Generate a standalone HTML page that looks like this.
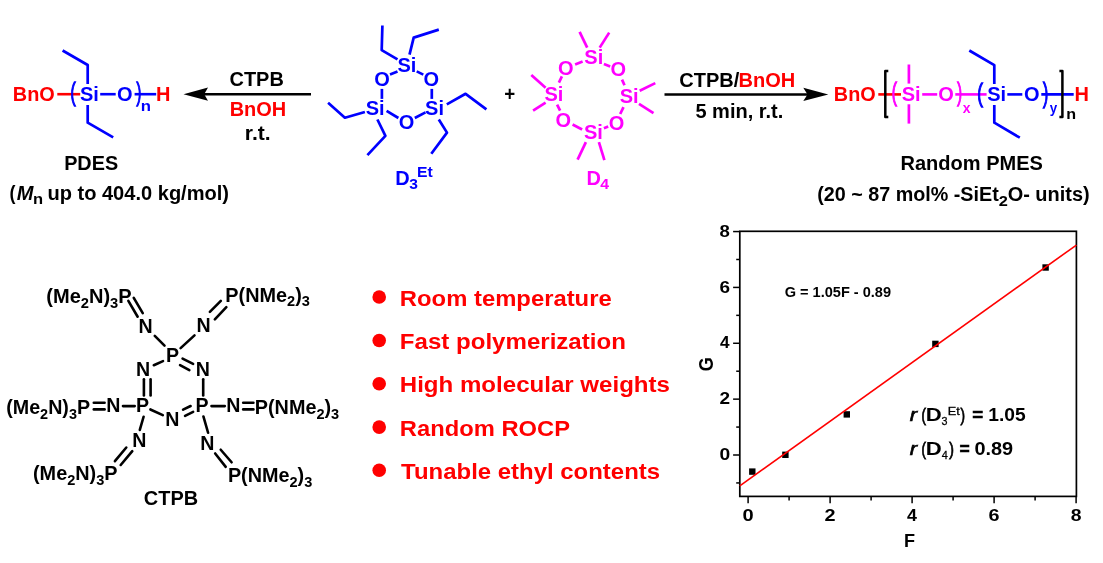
<!DOCTYPE html>
<html><head><meta charset="utf-8"><title>Graphical abstract</title>
<style>
html,body{margin:0;padding:0;background:#fff;}
svg{display:block;font-family:"Liberation Sans",Arial,Helvetica,sans-serif;font-weight:700;}
</style></head><body>
<svg width="1103" height="563" viewBox="0 0 1103 563">
<rect width="1103" height="563" fill="#fff"/>
<text x="12.84" y="101.0" font-size="20" fill="#ff0000" textLength="41.94" lengthAdjust="spacingAndGlyphs">BnO</text>
<polyline points="57.3,94.2 80.2,94.2" fill="none" stroke="#ff0000" stroke-width="2.6" stroke-linecap="butt" stroke-linejoin="round"/>
<text x="70.54" y="100.7" font-size="25.2" fill="#0000ff" textLength="5.13" lengthAdjust="spacingAndGlyphs" font-weight="400" stroke="#0000ff" stroke-width="1.3">(</text>
<text x="80.02" y="101.0" font-size="20" fill="#0000ff" textLength="18.90" lengthAdjust="spacingAndGlyphs">Si</text>
<polyline points="100.2,94.2 115.7,94.2" fill="none" stroke="#0000ff" stroke-width="2.6" stroke-linecap="butt" stroke-linejoin="round"/>
<text x="116.93" y="101.0" font-size="20" fill="#0000ff" textLength="15.56" lengthAdjust="spacingAndGlyphs">O</text>
<text x="136.53" y="100.7" font-size="25.2" fill="#0000ff" textLength="4.76" lengthAdjust="spacingAndGlyphs" font-weight="400" stroke="#0000ff" stroke-width="1.3">)</text>
<text x="140.76" y="110.6" font-size="14.6" fill="#0000ff" textLength="10.22" lengthAdjust="spacingAndGlyphs">n</text>
<polyline points="134.6,94.2 156.2,94.2" fill="none" stroke="#0000ff" stroke-width="2.6" stroke-linecap="butt" stroke-linejoin="round"/>
<text x="156.04" y="101.0" font-size="20" fill="#ff0000" textLength="14.44" lengthAdjust="spacingAndGlyphs">H</text>
<polyline points="87.7,84 87.7,65 62.6,50.5" fill="none" stroke="#0000ff" stroke-width="2.7" stroke-linecap="butt" stroke-linejoin="round"/>
<polyline points="87.7,105 87.7,122.7 113.2,137.4" fill="none" stroke="#0000ff" stroke-width="2.7" stroke-linecap="butt" stroke-linejoin="round"/>
<text x="64.14" y="170.2" font-size="20" fill="#000000" textLength="53.98" lengthAdjust="spacingAndGlyphs">PDES</text>
<text x="9.47" y="200.4" font-size="20" fill="#000000" textLength="6.00" lengthAdjust="spacingAndGlyphs">(</text>
<text x="16.71" y="200.4" font-size="20" fill="#000000" textLength="16.68" lengthAdjust="spacingAndGlyphs" font-style="italic">M</text>
<text x="33.08" y="203.6" font-size="14.6" fill="#000000" textLength="10.10" lengthAdjust="spacingAndGlyphs">n</text>
<text x="47.41" y="200.4" font-size="20" fill="#000000" textLength="181.63" lengthAdjust="spacingAndGlyphs">up to 404.0 kg/mol)</text>
<polyline points="204,94.2 311,94.2" fill="none" stroke="#000000" stroke-width="2.5" stroke-linecap="butt" stroke-linejoin="round"/>
<path d="M183.5,94.2 L208,87.6 L204.2,94.2 L208,100.8 Z" fill="#000"/>
<text x="229.53" y="86.1" font-size="20" fill="#000000" textLength="54.32" lengthAdjust="spacingAndGlyphs">CTPB</text>
<text x="229.63" y="116.0" font-size="20" fill="#ff0000" textLength="56.56" lengthAdjust="spacingAndGlyphs">BnOH</text>
<text x="244.88" y="139.7" font-size="20" fill="#000000" textLength="25.82" lengthAdjust="spacingAndGlyphs">r.t.</text>
<text x="397.47" y="72.2" font-size="20" fill="#0000ff" textLength="18.90" lengthAdjust="spacingAndGlyphs">Si</text>
<text x="374.13" y="85.7" font-size="20" fill="#0000ff" textLength="15.56" lengthAdjust="spacingAndGlyphs">O</text>
<text x="423.48" y="85.7" font-size="20" fill="#0000ff" textLength="15.56" lengthAdjust="spacingAndGlyphs">O</text>
<text x="365.67" y="115.4" font-size="20" fill="#0000ff" textLength="18.90" lengthAdjust="spacingAndGlyphs">Si</text>
<text x="425.12" y="115.4" font-size="20" fill="#0000ff" textLength="18.90" lengthAdjust="spacingAndGlyphs">Si</text>
<text x="398.63" y="129.3" font-size="20" fill="#0000ff" textLength="15.56" lengthAdjust="spacingAndGlyphs">O</text>
<polyline points="397.5,71.4 390,74.6" fill="none" stroke="#0000ff" stroke-width="2.7" stroke-linecap="butt" stroke-linejoin="round"/>
<polyline points="416.7,71.4 423.3,74.6" fill="none" stroke="#0000ff" stroke-width="2.7" stroke-linecap="butt" stroke-linejoin="round"/>
<polyline points="381.9,88.9 381.9,98.9" fill="none" stroke="#0000ff" stroke-width="2.7" stroke-linecap="butt" stroke-linejoin="round"/>
<polyline points="431.8,88.9 431.8,98.9" fill="none" stroke="#0000ff" stroke-width="2.7" stroke-linecap="butt" stroke-linejoin="round"/>
<polyline points="386.6,110.8 398.4,118" fill="none" stroke="#0000ff" stroke-width="2.7" stroke-linecap="butt" stroke-linejoin="round"/>
<polyline points="414.8,118 425.5,112.4" fill="none" stroke="#0000ff" stroke-width="2.7" stroke-linecap="butt" stroke-linejoin="round"/>
<polyline points="397.5,59.4 381.7,50.1 382.4,25.5" fill="none" stroke="#0000ff" stroke-width="2.7" stroke-linecap="butt" stroke-linejoin="round"/>
<polyline points="409.5,54.6 413.7,37.6 438.8,29.6" fill="none" stroke="#0000ff" stroke-width="2.7" stroke-linecap="butt" stroke-linejoin="round"/>
<polyline points="364.9,112 344.9,117.7 328.1,102.7" fill="none" stroke="#0000ff" stroke-width="2.7" stroke-linecap="butt" stroke-linejoin="round"/>
<polyline points="377.4,119.5 385.4,135.8 367.4,155.1" fill="none" stroke="#0000ff" stroke-width="2.7" stroke-linecap="butt" stroke-linejoin="round"/>
<polyline points="446.8,104.4 465.6,93.8 486.4,109.3" fill="none" stroke="#0000ff" stroke-width="2.7" stroke-linecap="butt" stroke-linejoin="round"/>
<polyline points="438.8,119.5 447,132.6 431.3,153.8" fill="none" stroke="#0000ff" stroke-width="2.7" stroke-linecap="butt" stroke-linejoin="round"/>
<text x="395.23" y="184.5" font-size="20" fill="#0000ff" textLength="14.44" lengthAdjust="spacingAndGlyphs">D</text>
<text x="409.21" y="189.1" font-size="14.6" fill="#0000ff" textLength="8.69" lengthAdjust="spacingAndGlyphs">3</text>
<text x="417.11" y="176.8" font-size="14.6" fill="#0000ff" textLength="15.73" lengthAdjust="spacingAndGlyphs">Et</text>
<text x="504.31" y="100.5" font-size="20" fill="#000000" textLength="10.94" lengthAdjust="spacingAndGlyphs">+</text>
<text x="584.37" y="64.3" font-size="20" fill="#ff00ff" textLength="18.90" lengthAdjust="spacingAndGlyphs">Si</text>
<text x="557.98" y="75.1" font-size="20" fill="#ff00ff" textLength="15.56" lengthAdjust="spacingAndGlyphs">O</text>
<text x="610.53" y="76.3" font-size="20" fill="#ff00ff" textLength="15.56" lengthAdjust="spacingAndGlyphs">O</text>
<text x="544.47" y="101.1" font-size="20" fill="#ff00ff" textLength="18.90" lengthAdjust="spacingAndGlyphs">Si</text>
<text x="619.67" y="103.1" font-size="20" fill="#ff00ff" textLength="18.90" lengthAdjust="spacingAndGlyphs">Si</text>
<text x="555.43" y="127.1" font-size="20" fill="#ff00ff" textLength="15.56" lengthAdjust="spacingAndGlyphs">O</text>
<text x="608.68" y="129.6" font-size="20" fill="#ff00ff" textLength="15.56" lengthAdjust="spacingAndGlyphs">O</text>
<text x="583.97" y="138.9" font-size="20" fill="#ff00ff" textLength="18.90" lengthAdjust="spacingAndGlyphs">Si</text>
<polyline points="582.6,61.4 575.1,64.4" fill="none" stroke="#ff00ff" stroke-width="2.7" stroke-linecap="butt" stroke-linejoin="round"/>
<polyline points="603.9,63.9 610.2,66.4" fill="none" stroke="#ff00ff" stroke-width="2.7" stroke-linecap="butt" stroke-linejoin="round"/>
<polyline points="561.9,76.4 558.9,82.6" fill="none" stroke="#ff00ff" stroke-width="2.7" stroke-linecap="butt" stroke-linejoin="round"/>
<polyline points="622,79.6 624.5,85.2" fill="none" stroke="#ff00ff" stroke-width="2.7" stroke-linecap="butt" stroke-linejoin="round"/>
<polyline points="557.1,104.7 560.1,110.7" fill="none" stroke="#ff00ff" stroke-width="2.7" stroke-linecap="butt" stroke-linejoin="round"/>
<polyline points="623.5,107.2 620.2,114" fill="none" stroke="#ff00ff" stroke-width="2.7" stroke-linecap="butt" stroke-linejoin="round"/>
<polyline points="572.6,124.5 582.1,129.5" fill="none" stroke="#ff00ff" stroke-width="2.7" stroke-linecap="butt" stroke-linejoin="round"/>
<polyline points="608.2,126.5 603.9,128.2" fill="none" stroke="#ff00ff" stroke-width="2.7" stroke-linecap="butt" stroke-linejoin="round"/>
<polyline points="587.2,47.6 579.6,31.8" fill="none" stroke="#ff00ff" stroke-width="2.7" stroke-linecap="butt" stroke-linejoin="round"/>
<polyline points="599.7,47.6 609.2,32.6" fill="none" stroke="#ff00ff" stroke-width="2.7" stroke-linecap="butt" stroke-linejoin="round"/>
<polyline points="545.6,87.7 531.3,75.1" fill="none" stroke="#ff00ff" stroke-width="2.7" stroke-linecap="butt" stroke-linejoin="round"/>
<polyline points="545.6,102.7 533.1,110.7" fill="none" stroke="#ff00ff" stroke-width="2.7" stroke-linecap="butt" stroke-linejoin="round"/>
<polyline points="639.7,90.7 655.3,83.1" fill="none" stroke="#ff00ff" stroke-width="2.7" stroke-linecap="butt" stroke-linejoin="round"/>
<polyline points="639,103.9 653.5,113.2" fill="none" stroke="#ff00ff" stroke-width="2.7" stroke-linecap="butt" stroke-linejoin="round"/>
<polyline points="585.9,142.1 577.6,159.6" fill="none" stroke="#ff00ff" stroke-width="2.7" stroke-linecap="butt" stroke-linejoin="round"/>
<polyline points="598.9,142.1 604.4,160.1" fill="none" stroke="#ff00ff" stroke-width="2.7" stroke-linecap="butt" stroke-linejoin="round"/>
<text x="586.48" y="184.7" font-size="20" fill="#ff00ff" textLength="14.44" lengthAdjust="spacingAndGlyphs">D</text>
<text x="600.31" y="189.1" font-size="14.6" fill="#ff00ff" textLength="8.82" lengthAdjust="spacingAndGlyphs">4</text>
<polyline points="664.5,94.4 808,94.4" fill="none" stroke="#000000" stroke-width="2.5" stroke-linecap="butt" stroke-linejoin="round"/>
<path d="M828.3,94.4 L803.3,87.8 L807.5,94.4 L803.3,101 Z" fill="#000"/>
<text x="679.23" y="86.6" font-size="20" fill="#000000" textLength="60.00" lengthAdjust="spacingAndGlyphs">CTPB/</text>
<text x="738.43" y="86.6" font-size="20" fill="#ff0000" textLength="56.77" lengthAdjust="spacingAndGlyphs">BnOH</text>
<text x="695.45" y="118.4" font-size="20" fill="#000000" textLength="87.78" lengthAdjust="spacingAndGlyphs">5 min, r.t.</text>
<text x="833.84" y="100.5" font-size="20" fill="#ff0000" textLength="41.84" lengthAdjust="spacingAndGlyphs">BnO</text>
<polyline points="878.3,94.4 901,94.4" fill="none" stroke="#ff0000" stroke-width="2.6" stroke-linecap="butt" stroke-linejoin="round"/>
<polyline points="888.3,70.9 885.3,70.9 885.3,116.9 888.3,116.9" fill="none" stroke="#000000" stroke-width="2.5" stroke-linecap="butt" stroke-linejoin="round"/>
<text x="891.84" y="101.0" font-size="25.2" fill="#ff00ff" textLength="5.13" lengthAdjust="spacingAndGlyphs" font-weight="400" stroke="#ff00ff" stroke-width="1.3">(</text>
<text x="901.72" y="100.5" font-size="20" fill="#ff00ff" textLength="18.90" lengthAdjust="spacingAndGlyphs">Si</text>
<polyline points="908.9,64.5 908.9,83.6" fill="none" stroke="#ff00ff" stroke-width="2.7" stroke-linecap="butt" stroke-linejoin="round"/>
<polyline points="908.9,104.3 908.9,123.6" fill="none" stroke="#ff00ff" stroke-width="2.7" stroke-linecap="butt" stroke-linejoin="round"/>
<polyline points="922.2,94.4 937.2,94.4" fill="none" stroke="#ff00ff" stroke-width="2.6" stroke-linecap="butt" stroke-linejoin="round"/>
<text x="938.18" y="100.5" font-size="20" fill="#ff00ff" textLength="15.56" lengthAdjust="spacingAndGlyphs">O</text>
<text x="957.33" y="101.0" font-size="25.2" fill="#ff00ff" textLength="4.76" lengthAdjust="spacingAndGlyphs" font-weight="400" stroke="#ff00ff" stroke-width="1.3">)</text>
<polyline points="955.3,94.4 986.6,94.4" fill="none" stroke="#ff00ff" stroke-width="2.6" stroke-linecap="butt" stroke-linejoin="round"/>
<text x="962.77" y="112.5" font-size="14.6" fill="#ff00ff" textLength="7.78" lengthAdjust="spacingAndGlyphs">x</text>
<text x="977.35" y="101.5" font-size="26.7" fill="#0000ff" textLength="5.63" lengthAdjust="spacingAndGlyphs" font-weight="400" stroke="#0000ff" stroke-width="1.3">(</text>
<text x="987.27" y="100.5" font-size="20" fill="#0000ff" textLength="18.90" lengthAdjust="spacingAndGlyphs">Si</text>
<polyline points="994.3,84 994.3,65.1 969.3,50.5" fill="none" stroke="#0000ff" stroke-width="2.7" stroke-linecap="butt" stroke-linejoin="round"/>
<polyline points="994.3,105 994.3,122.7 1019.8,137.7" fill="none" stroke="#0000ff" stroke-width="2.7" stroke-linecap="butt" stroke-linejoin="round"/>
<polyline points="1007.3,94.4 1022.3,94.4" fill="none" stroke="#0000ff" stroke-width="2.6" stroke-linecap="butt" stroke-linejoin="round"/>
<text x="1023.93" y="100.5" font-size="20" fill="#0000ff" textLength="15.56" lengthAdjust="spacingAndGlyphs">O</text>
<text x="1043.12" y="101.7" font-size="27.2" fill="#0000ff" textLength="5.26" lengthAdjust="spacingAndGlyphs" font-weight="400" stroke="#0000ff" stroke-width="1.3">)</text>
<polyline points="1041.3,94.4 1073.7,94.4" fill="none" stroke="#0000ff" stroke-width="2.6" stroke-linecap="butt" stroke-linejoin="round"/>
<text x="1049.66" y="112.5" font-size="14.6" fill="#0000ff" textLength="7.46" lengthAdjust="spacingAndGlyphs">y</text>
<polyline points="1059.4,70.9 1062.4,70.9 1062.4,116.9 1059.4,116.9" fill="none" stroke="#000000" stroke-width="2.5" stroke-linecap="butt" stroke-linejoin="round"/>
<text x="1066.20" y="118.6" font-size="14.6" fill="#000000" textLength="9.84" lengthAdjust="spacingAndGlyphs">n</text>
<text x="1074.39" y="100.5" font-size="20" fill="#ff0000" textLength="14.44" lengthAdjust="spacingAndGlyphs">H</text>
<text x="900.53" y="170.3" font-size="20" fill="#000000" textLength="142.40" lengthAdjust="spacingAndGlyphs">Random PMES</text>
<text x="817.18" y="201.4" font-size="20" fill="#000000" textLength="181.60" lengthAdjust="spacingAndGlyphs">(20 ~ 87 mol% -SiEt</text>
<text x="998.69" y="205.5" font-size="14.6" fill="#000000" textLength="9.10" lengthAdjust="spacingAndGlyphs">2</text>
<text x="1007.63" y="201.4" font-size="20" fill="#000000" textLength="82.00" lengthAdjust="spacingAndGlyphs">O- units)</text>
<text x="46.3" y="303.0" font-size="19.6" fill="#000000" textLength="85.4" lengthAdjust="spacingAndGlyphs">(Me<tspan font-size="14.4" dy="4.6">2</tspan><tspan dy="-4.6" font-size="1">&#8203;</tspan>N)<tspan font-size="14.4" dy="4.6">3</tspan><tspan dy="-4.6" font-size="1">&#8203;</tspan>P</text>
<text x="225.29999999999998" y="301.8" font-size="19.6" fill="#000000" textLength="84.6" lengthAdjust="spacingAndGlyphs">P(NMe<tspan font-size="14.4" dy="4.6">2</tspan><tspan dy="-4.6" font-size="1">&#8203;</tspan>)<tspan font-size="14.4" dy="4.6">3</tspan><tspan dy="-4.6" font-size="1">&#8203;</tspan></text>
<text x="6.2" y="414.1" font-size="19.6" fill="#000000" textLength="83.9" lengthAdjust="spacingAndGlyphs">(Me<tspan font-size="14.4" dy="4.6">2</tspan><tspan dy="-4.6" font-size="1">&#8203;</tspan>N)<tspan font-size="14.4" dy="4.6">3</tspan><tspan dy="-4.6" font-size="1">&#8203;</tspan>P</text>
<text x="254.8" y="414.1" font-size="19.6" fill="#000000" textLength="84.4" lengthAdjust="spacingAndGlyphs">P(NMe<tspan font-size="14.4" dy="4.6">2</tspan><tspan dy="-4.6" font-size="1">&#8203;</tspan>)<tspan font-size="14.4" dy="4.6">3</tspan><tspan dy="-4.6" font-size="1">&#8203;</tspan></text>
<text x="33.0" y="480.2" font-size="19.6" fill="#000000" textLength="84.6" lengthAdjust="spacingAndGlyphs">(Me<tspan font-size="14.4" dy="4.6">2</tspan><tspan dy="-4.6" font-size="1">&#8203;</tspan>N)<tspan font-size="14.4" dy="4.6">3</tspan><tspan dy="-4.6" font-size="1">&#8203;</tspan>P</text>
<text x="227.89999999999998" y="482.2" font-size="19.6" fill="#000000" textLength="84.4" lengthAdjust="spacingAndGlyphs">P(NMe<tspan font-size="14.4" dy="4.6">2</tspan><tspan dy="-4.6" font-size="1">&#8203;</tspan>)<tspan font-size="14.4" dy="4.6">3</tspan><tspan dy="-4.6" font-size="1">&#8203;</tspan></text>
<text x="138.53" y="332.5" font-size="19.6" fill="#000000" textLength="14.15" lengthAdjust="spacingAndGlyphs">N</text>
<text x="196.43" y="331.8" font-size="19.6" fill="#000000" textLength="14.15" lengthAdjust="spacingAndGlyphs">N</text>
<text x="165.95" y="361.8" font-size="19.6" fill="#000000" textLength="13.07" lengthAdjust="spacingAndGlyphs">P</text>
<text x="136.03" y="375.6" font-size="19.6" fill="#000000" textLength="14.15" lengthAdjust="spacingAndGlyphs">N</text>
<text x="195.73" y="375.6" font-size="19.6" fill="#000000" textLength="14.15" lengthAdjust="spacingAndGlyphs">N</text>
<text x="136.10" y="412.2" font-size="19.6" fill="#000000" textLength="13.07" lengthAdjust="spacingAndGlyphs">P</text>
<text x="195.60" y="412.2" font-size="19.6" fill="#000000" textLength="13.07" lengthAdjust="spacingAndGlyphs">P</text>
<text x="165.33" y="426.3" font-size="19.6" fill="#000000" textLength="14.15" lengthAdjust="spacingAndGlyphs">N</text>
<text x="106.13" y="412.2" font-size="19.6" fill="#000000" textLength="14.15" lengthAdjust="spacingAndGlyphs">N</text>
<text x="226.23" y="412.2" font-size="19.6" fill="#000000" textLength="14.15" lengthAdjust="spacingAndGlyphs">N</text>
<text x="132.33" y="446.8" font-size="19.6" fill="#000000" textLength="14.15" lengthAdjust="spacingAndGlyphs">N</text>
<text x="200.18" y="449.7" font-size="19.6" fill="#000000" textLength="14.15" lengthAdjust="spacingAndGlyphs">N</text>
<polyline points="128.35,300.85 137.65,316.75" fill="none" stroke="#000000" stroke-width="2.6" stroke-linecap="round" stroke-linejoin="round"/>
<polyline points="133.76,297.85 142.74,313.05" fill="none" stroke="#000000" stroke-width="2.6" stroke-linecap="round" stroke-linejoin="round"/>
<polyline points="209.88,311.82 220.82,300.88" fill="none" stroke="#000000" stroke-width="2.6" stroke-linecap="round" stroke-linejoin="round"/>
<polyline points="214.85,319.3 226.35,307.1" fill="none" stroke="#000000" stroke-width="2.6" stroke-linecap="round" stroke-linejoin="round"/>
<polyline points="154.78,335.88 164.52,345.62" fill="none" stroke="#000000" stroke-width="2.6" stroke-linecap="round" stroke-linejoin="round"/>
<polyline points="194.49,335.35 180.61,348.15" fill="none" stroke="#000000" stroke-width="2.6" stroke-linecap="round" stroke-linejoin="round"/>
<polyline points="163.0,361.15 153.8,365.25" fill="none" stroke="#000000" stroke-width="2.6" stroke-linecap="round" stroke-linejoin="round"/>
<polyline points="182.59,358.69 193.11,363.91" fill="none" stroke="#000000" stroke-width="2.6" stroke-linecap="round" stroke-linejoin="round"/>
<polyline points="180.07,365.22 189.33,370.18" fill="none" stroke="#000000" stroke-width="2.6" stroke-linecap="round" stroke-linejoin="round"/>
<polyline points="143.9,379.3 143.9,395.4" fill="none" stroke="#000000" stroke-width="2.6" stroke-linecap="round" stroke-linejoin="round"/>
<polyline points="150.6,379.3 150.6,395.4" fill="none" stroke="#000000" stroke-width="2.6" stroke-linecap="round" stroke-linejoin="round"/>
<polyline points="203.2,379.3 203.2,395.4" fill="none" stroke="#000000" stroke-width="2.6" stroke-linecap="round" stroke-linejoin="round"/>
<polyline points="93.8,402.8 104.6,402.8" fill="none" stroke="#000000" stroke-width="2.6" stroke-linecap="round" stroke-linejoin="round"/>
<polyline points="93.8,409.4 104.6,409.4" fill="none" stroke="#000000" stroke-width="2.6" stroke-linecap="round" stroke-linejoin="round"/>
<polyline points="123.0,406.1 134.7,406.1" fill="none" stroke="#000000" stroke-width="2.6" stroke-linecap="round" stroke-linejoin="round"/>
<polyline points="150.4,409.46 162.8,415.14" fill="none" stroke="#000000" stroke-width="2.6" stroke-linecap="round" stroke-linejoin="round"/>
<polyline points="183.09,409.62 190.61,405.98" fill="none" stroke="#000000" stroke-width="2.6" stroke-linecap="round" stroke-linejoin="round"/>
<polyline points="185.08,415.81 193.12,411.79" fill="none" stroke="#000000" stroke-width="2.6" stroke-linecap="round" stroke-linejoin="round"/>
<polyline points="211.5,406.1 224.8,406.1" fill="none" stroke="#000000" stroke-width="2.6" stroke-linecap="round" stroke-linejoin="round"/>
<polyline points="243.2,402.8 253.4,402.8" fill="none" stroke="#000000" stroke-width="2.6" stroke-linecap="round" stroke-linejoin="round"/>
<polyline points="243.2,409.4 253.4,409.4" fill="none" stroke="#000000" stroke-width="2.6" stroke-linecap="round" stroke-linejoin="round"/>
<polyline points="143.6,416.76 139.8,429.94" fill="none" stroke="#000000" stroke-width="2.6" stroke-linecap="round" stroke-linejoin="round"/>
<polyline points="126.29,447.54 114.91,461.16" fill="none" stroke="#000000" stroke-width="2.6" stroke-linecap="round" stroke-linejoin="round"/>
<polyline points="132.29,451.14 120.71,464.96" fill="none" stroke="#000000" stroke-width="2.6" stroke-linecap="round" stroke-linejoin="round"/>
<polyline points="203.4,416.46 208.1,432.74" fill="none" stroke="#000000" stroke-width="2.6" stroke-linecap="round" stroke-linejoin="round"/>
<polyline points="215.18,453.46 225.72,466.84" fill="none" stroke="#000000" stroke-width="2.6" stroke-linecap="round" stroke-linejoin="round"/>
<polyline points="220.72,449.73 231.58,462.27" fill="none" stroke="#000000" stroke-width="2.6" stroke-linecap="round" stroke-linejoin="round"/>
<text x="143.83" y="505.2" font-size="20" fill="#000000" textLength="54.32" lengthAdjust="spacingAndGlyphs">CTPB</text>
<circle cx="379.2" cy="297.0" r="6.8" fill="#ff0000"/>
<text x="399.83" y="305.5" font-size="22.8" fill="#ff0000" textLength="211.87" lengthAdjust="spacingAndGlyphs">Room temperature</text>
<circle cx="379.2" cy="340.5" r="6.8" fill="#ff0000"/>
<text x="399.81" y="349.0" font-size="22.8" fill="#ff0000" textLength="226.07" lengthAdjust="spacingAndGlyphs">Fast polymerization</text>
<circle cx="379.2" cy="383.8" r="6.8" fill="#ff0000"/>
<text x="399.81" y="392.3" font-size="22.8" fill="#ff0000" textLength="270.15" lengthAdjust="spacingAndGlyphs">High molecular weights</text>
<circle cx="379.2" cy="427.1" r="6.8" fill="#ff0000"/>
<text x="399.83" y="435.6" font-size="22.8" fill="#ff0000" textLength="170.17" lengthAdjust="spacingAndGlyphs">Random ROCP</text>
<circle cx="379.2" cy="470.2" r="6.8" fill="#ff0000"/>
<text x="401.14" y="478.7" font-size="22.8" fill="#ff0000" textLength="258.92" lengthAdjust="spacingAndGlyphs">Tunable ethyl contents</text>
<rect x="739.8" y="231.3" width="336.6" height="265.1" fill="none" stroke="#000" stroke-width="1.7"/>
<polyline points="733.0999999999999,455.0 739.8,455.0" fill="none" stroke="#000000" stroke-width="1.5" stroke-linecap="butt" stroke-linejoin="round"/>
<text x="719.45" y="460.2" font-size="17" fill="#000000" textLength="10.73" lengthAdjust="spacingAndGlyphs">0</text>
<polyline points="733.0999999999999,399.14 739.8,399.14" fill="none" stroke="#000000" stroke-width="1.5" stroke-linecap="butt" stroke-linejoin="round"/>
<text x="719.55" y="404.34" font-size="17" fill="#000000" textLength="10.59" lengthAdjust="spacingAndGlyphs">2</text>
<polyline points="733.0999999999999,343.28 739.8,343.28" fill="none" stroke="#000000" stroke-width="1.5" stroke-linecap="butt" stroke-linejoin="round"/>
<text x="719.94" y="348.48" font-size="17" fill="#000000" textLength="9.55" lengthAdjust="spacingAndGlyphs">4</text>
<polyline points="733.0999999999999,287.42 739.8,287.42" fill="none" stroke="#000000" stroke-width="1.5" stroke-linecap="butt" stroke-linejoin="round"/>
<text x="719.52" y="292.62" font-size="17" fill="#000000" textLength="10.55" lengthAdjust="spacingAndGlyphs">6</text>
<polyline points="733.0999999999999,231.56 739.8,231.56" fill="none" stroke="#000000" stroke-width="1.5" stroke-linecap="butt" stroke-linejoin="round"/>
<text x="719.62" y="236.76" font-size="17" fill="#000000" textLength="10.34" lengthAdjust="spacingAndGlyphs">8</text>
<polyline points="736.1999999999999,482.93 739.8,482.93" fill="none" stroke="#000000" stroke-width="1.5" stroke-linecap="butt" stroke-linejoin="round"/>
<polyline points="736.1999999999999,427.07 739.8,427.07" fill="none" stroke="#000000" stroke-width="1.5" stroke-linecap="butt" stroke-linejoin="round"/>
<polyline points="736.1999999999999,371.21 739.8,371.21" fill="none" stroke="#000000" stroke-width="1.5" stroke-linecap="butt" stroke-linejoin="round"/>
<polyline points="736.1999999999999,315.35 739.8,315.35" fill="none" stroke="#000000" stroke-width="1.5" stroke-linecap="butt" stroke-linejoin="round"/>
<polyline points="736.1999999999999,259.49 739.8,259.49" fill="none" stroke="#000000" stroke-width="1.5" stroke-linecap="butt" stroke-linejoin="round"/>
<polyline points="748.1,496.4 748.1,503.29999999999995" fill="none" stroke="#000000" stroke-width="1.5" stroke-linecap="butt" stroke-linejoin="round"/>
<text x="742.52" y="520.8" font-size="17" fill="#000000" textLength="11.19" lengthAdjust="spacingAndGlyphs">0</text>
<polyline points="830.1,496.4 830.1,503.29999999999995" fill="none" stroke="#000000" stroke-width="1.5" stroke-linecap="butt" stroke-linejoin="round"/>
<text x="824.62" y="520.8" font-size="17" fill="#000000" textLength="11.05" lengthAdjust="spacingAndGlyphs">2</text>
<polyline points="912.1,496.4 912.1,503.29999999999995" fill="none" stroke="#000000" stroke-width="1.5" stroke-linecap="butt" stroke-linejoin="round"/>
<text x="907.03" y="520.8" font-size="17" fill="#000000" textLength="9.96" lengthAdjust="spacingAndGlyphs">4</text>
<polyline points="994.1,496.4 994.1,503.29999999999995" fill="none" stroke="#000000" stroke-width="1.5" stroke-linecap="butt" stroke-linejoin="round"/>
<text x="988.59" y="520.8" font-size="17" fill="#000000" textLength="11.01" lengthAdjust="spacingAndGlyphs">6</text>
<polyline points="1076.1,496.4 1076.1,503.29999999999995" fill="none" stroke="#000000" stroke-width="1.5" stroke-linecap="butt" stroke-linejoin="round"/>
<text x="1070.70" y="520.8" font-size="17" fill="#000000" textLength="10.79" lengthAdjust="spacingAndGlyphs">8</text>
<polyline points="789.1,496.4 789.1,500.4" fill="none" stroke="#000000" stroke-width="1.5" stroke-linecap="butt" stroke-linejoin="round"/>
<polyline points="871.1,496.4 871.1,500.4" fill="none" stroke="#000000" stroke-width="1.5" stroke-linecap="butt" stroke-linejoin="round"/>
<polyline points="953.1,496.4 953.1,500.4" fill="none" stroke="#000000" stroke-width="1.5" stroke-linecap="butt" stroke-linejoin="round"/>
<polyline points="1035.1,496.4 1035.1,500.4" fill="none" stroke="#000000" stroke-width="1.5" stroke-linecap="butt" stroke-linejoin="round"/>
<rect x="749.1" y="468.4" width="6.4" height="6.4" fill="#000"/>
<rect x="782.2" y="451.6" width="6.4" height="6.4" fill="#000"/>
<rect x="843.6" y="411.2" width="6.4" height="6.4" fill="#000"/>
<rect x="932.2" y="340.7" width="6.4" height="6.4" fill="#000"/>
<rect x="1042.4" y="264.3" width="6.4" height="6.4" fill="#000"/>
<polyline points="739.8,485.79 1076.4,245.03" fill="none" stroke="#ff0000" stroke-width="1.6" stroke-linecap="butt" stroke-linejoin="round"/>
<text x="784.65" y="296.9" font-size="14.5" fill="#000000" textLength="106.43" lengthAdjust="spacingAndGlyphs">G = 1.05F - 0.89</text>
<text transform="translate(712.9,364.2) scale(1.13,1) rotate(-90)" font-size="18" text-anchor="middle">G</text>
<text x="904.11" y="547.1" font-size="18" fill="#000000" textLength="11.04" lengthAdjust="spacingAndGlyphs">F</text>
<text x="909.84" y="420.8" font-size="19" fill="#000000" textLength="7.40" lengthAdjust="spacingAndGlyphs" font-weight="400" stroke="#000000" stroke-width="0.6" font-style="italic">r</text>
<text x="921.48" y="420.8" font-size="19" fill="#000000" textLength="4.38" lengthAdjust="spacingAndGlyphs" font-weight="400" stroke="#000000" stroke-width="0.9">(</text>
<text x="925.74" y="420.8" font-size="19" fill="#000000" textLength="15.97" lengthAdjust="spacingAndGlyphs">D</text>
<text x="941.49" y="425.1" font-size="11.5" fill="#000000" textLength="5.97" lengthAdjust="spacingAndGlyphs" font-weight="400" stroke="#000000" stroke-width="0.3">3</text>
<text x="947.76" y="415.2" font-size="11.5" fill="#000000" textLength="12.03" lengthAdjust="spacingAndGlyphs" font-weight="400" stroke="#000000" stroke-width="0.3">Et</text>
<text x="960.43" y="420.8" font-size="19" fill="#000000" textLength="4.51" lengthAdjust="spacingAndGlyphs" font-weight="400" stroke="#000000" stroke-width="0.9">)</text>
<text x="972.23" y="420.8" font-size="19" fill="#000000" textLength="10.94" lengthAdjust="spacingAndGlyphs" stroke="#000000" stroke-width="0.6">=</text>
<text x="988.21" y="420.8" font-size="19" fill="#000000" textLength="37.42" lengthAdjust="spacingAndGlyphs">1.05</text>
<text x="909.84" y="454.9" font-size="19" fill="#000000" textLength="7.40" lengthAdjust="spacingAndGlyphs" font-weight="400" stroke="#000000" stroke-width="0.6" font-style="italic">r</text>
<text x="921.48" y="454.9" font-size="19" fill="#000000" textLength="4.38" lengthAdjust="spacingAndGlyphs" font-weight="400" stroke="#000000" stroke-width="0.9">(</text>
<text x="925.74" y="454.9" font-size="19" fill="#000000" textLength="15.97" lengthAdjust="spacingAndGlyphs">D</text>
<text x="941.66" y="459.2" font-size="11.5" fill="#000000" textLength="6.06" lengthAdjust="spacingAndGlyphs" font-weight="400" stroke="#000000" stroke-width="0.3">4</text>
<text x="949.33" y="454.9" font-size="19" fill="#000000" textLength="4.63" lengthAdjust="spacingAndGlyphs" font-weight="400" stroke="#000000" stroke-width="0.9">)</text>
<text x="959.48" y="454.9" font-size="19" fill="#000000" textLength="10.24" lengthAdjust="spacingAndGlyphs" stroke="#000000" stroke-width="0.6">=</text>
<text x="974.42" y="454.9" font-size="19" fill="#000000" textLength="38.70" lengthAdjust="spacingAndGlyphs">0.89</text>
</svg>
</body></html>
